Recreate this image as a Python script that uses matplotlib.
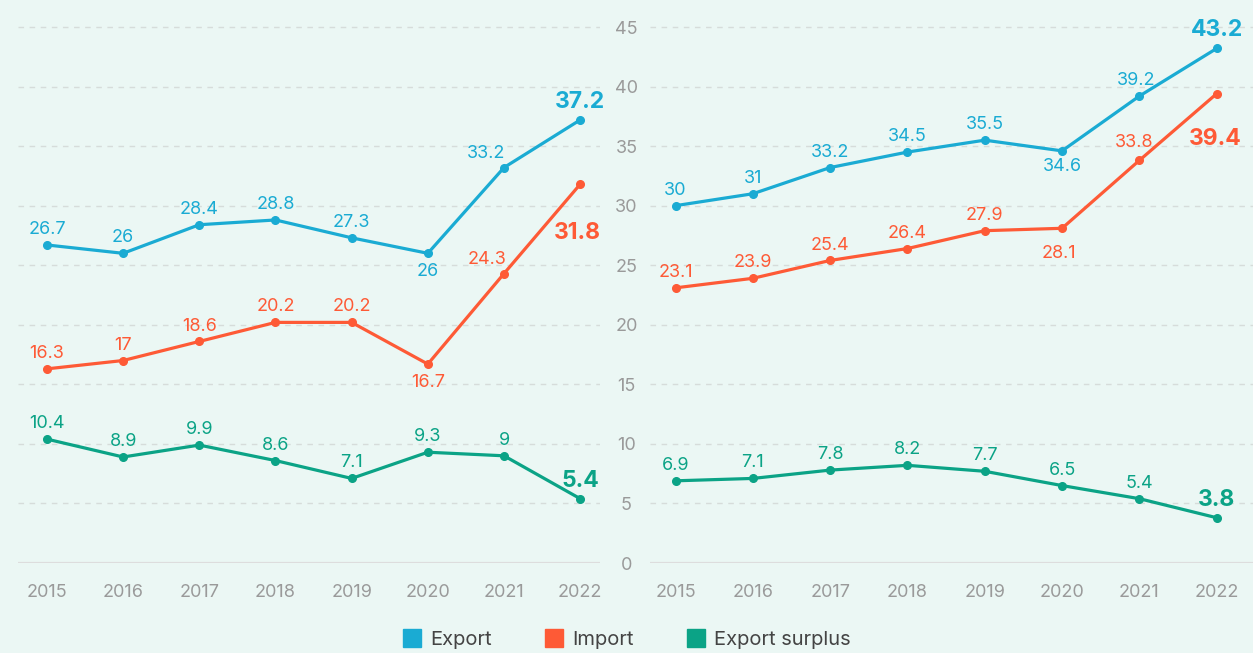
import matplotlib
matplotlib.use("Agg")
import matplotlib.pyplot as plt
from matplotlib.lines import Line2D

plt.rcParams["font.family"] = ["Inter", "DejaVu Sans"]

# data
years = [2015, 2016, 2017, 2018, 2019, 2020, 2021, 2022]
year_labels = [str(y) for y in years]

left_export = [26.7, 26, 28.4, 28.8, 27.3, 26, 33.2, 37.2]
left_import = [16.3, 17, 18.6, 20.2, 20.2, 16.7, 24.3, 31.8]
left_surplus = [10.4, 8.9, 9.9, 8.6, 7.1, 9.3, 9, 5.4]

right_export = [30, 31, 33.2, 34.5, 35.5, 34.6, 39.2, 43.2]
right_import = [23.1, 23.9, 25.4, 26.4, 27.9, 28.1, 33.8, 39.4]
right_surplus = [6.9, 7.1, 7.8, 8.2, 7.7, 6.5, 5.4, 3.8]

y_ticks = [0, 5, 10, 15, 20, 25, 30, 35, 40, 45]
series_names = ["Export", "Import", "Export surplus"]

# style
bg = "#ebf7f4"
c_export = "#1aabd3"
c_import = "#fe5a36"
c_surplus = "#0ba386"
colors = [c_export, c_import, c_surplus]
grid_c = "#d6dcda"
tick_c = "#9a9a9a"

# label offsets in points (dx, dy) -- default is straight above
left_offsets = {
    (0, 5): (0, -7), (0, 6): (-13, 4),
    (1, 5): (0, -7), (1, 6): (-12, 4), (1, 7): (-2, -27),
}
right_offsets = {
    (0, 5): (0, -5), (0, 6): (-2, 5),
    (1, 5): (-2, -12), (1, 6): (-4, 7), (1, 7): (-1, -25),
}

fig = plt.figure(figsize=(12.53, 6.53), dpi=100, facecolor=bg)

H = 653.0
W = 1253.0
y0_px = 563.0
top_px = 10.0
px_per_unit = (563.0 - 27.0) / 45.0
ytop = (y0_px - top_px) / px_per_unit

ax_l = fig.add_axes([18 / W, 1 - y0_px / H, 582 / W, (y0_px - top_px) / H])
ax_r = fig.add_axes([650 / W, 1 - y0_px / H, 603 / W, (y0_px - top_px) / H])


def draw_panel(ax, data, offsets, xlim):
    ax.set_facecolor(bg)
    ax.set_xlim(*xlim)
    ax.set_ylim(0, ytop)
    for s in ax.spines.values():
        s.set_visible(False)
    for t in y_ticks[1:]:
        ax.axhline(t, color=grid_c, lw=1, ls=(0, (4, 4)), zorder=0)
    ax.axhline(0, color="#dddddd", lw=1.6, zorder=0)
    ax.set_xticks(years)
    ax.set_xticklabels(year_labels)
    ax.tick_params(axis="x", length=0, pad=15, labelsize=13, labelcolor=tick_c)

    for si, (vals, col) in enumerate(zip(data, colors)):
        ax.plot(years, vals, color=col, lw=2.3, marker="o", ms=5.5,
                zorder=3, solid_capstyle="round")
        for i, (x, v) in enumerate(zip(years, vals)):
            last = i == len(vals) - 1
            dx, dy = offsets.get((si, i), (0, 5))
            txt = f"{v:g}"
            va = "bottom" if dy >= 0 else "top"
            ax.annotate(txt, (x, v), xytext=(dx, dy), textcoords="offset points",
                        ha="center", va=va, color=col,
                        fontsize=16.5 if last else 13,
                        fontweight="bold" if last else "normal", zorder=4)


draw_panel(ax_l, [left_export, left_import, left_surplus], left_offsets,
           (2014.62, 2022.26))
ax_l.set_yticks([])

draw_panel(ax_r, [right_export, right_import, right_surplus], right_offsets,
           (2014.67, 2022.47))
ax_r.set_yticks(y_ticks)
ax_r.set_yticklabels([str(t) for t in y_ticks])
ax_r.tick_params(axis="y", length=0, pad=17, labelsize=13, labelcolor=tick_c)
for lab in ax_r.get_yticklabels():
    lab.set_horizontalalignment("center")

handles = [Line2D([], [], marker="s", ls="none", ms=13, color=c) for c in colors]
fig.legend(handles, series_names, loc="center", bbox_to_anchor=(0.5, 1 - 640 / H),
           ncol=3, frameon=False, fontsize=14.5, handlelength=1.0,
           handletextpad=0.4, columnspacing=2.6, labelcolor="#444444")

fig.savefig("out.png", dpi=100, facecolor=bg)
